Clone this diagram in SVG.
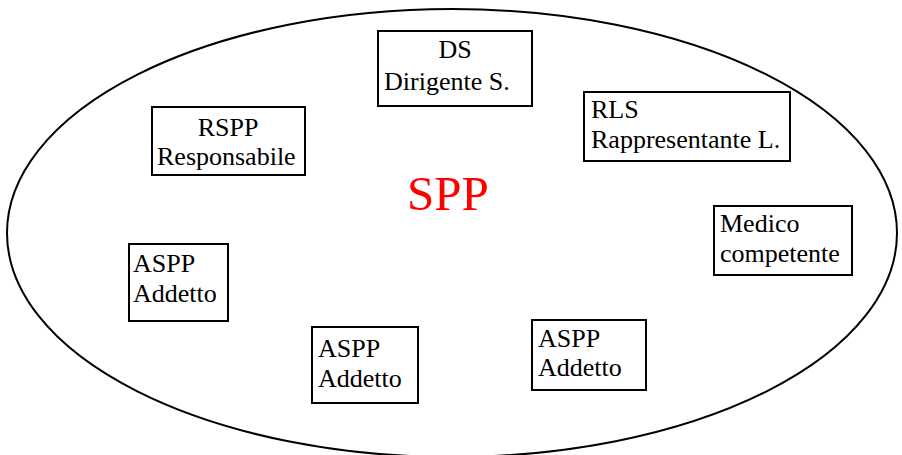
<svg xmlns="http://www.w3.org/2000/svg" width="902" height="455" viewBox="0 0 902 455">
<style>
.box{fill:#fff;stroke:#000;stroke-width:2}
.c{text-anchor:middle}
</style>
<rect width="902" height="455" fill="#fff"/>
<ellipse cx="452" cy="233" rx="445" ry="224" fill="none" stroke="#000" stroke-width="2"/>
<g font-family="Liberation Serif, Times New Roman, serif" font-size="26" fill="#000">
<text x="448" y="210" font-size="49" fill="#ff0000" text-anchor="middle">SPP</text>
<g id="connectors"></g>
<g id="ds"><rect class="box" x="378" y="31" width="154" height="75"/><text class="c" x="455" y="58">DS</text><text x="384" y="90">Dirigente S.</text></g>
<g id="rspp"><rect class="box" x="152" y="107" width="153" height="68"/><text class="c" x="228" y="136">RSPP</text><text x="157" y="165">Responsabile</text></g>
<g id="rls"><rect class="box" x="584" y="92" width="206" height="69"/><text x="591" y="118">RLS</text><text x="591" y="148">Rappresentante L.</text></g>
<g id="medico"><rect class="box" x="714" y="206" width="138" height="69"/><text x="720" y="232">Medico</text><text x="720" y="262">competente</text></g>
<g id="aspp1"><rect class="box" x="129" y="244" width="99" height="77"/><text x="133" y="272">ASPP</text><text x="133" y="302">Addetto</text></g>
<g id="aspp2"><rect class="box" x="312" y="327" width="106" height="76"/><text x="318" y="357">ASPP</text><text x="318" y="387">Addetto</text></g>
<g id="aspp3"><rect class="box" x="532" y="320" width="114" height="70"/><text x="538" y="347">ASPP</text><text x="538" y="376">Addetto</text></g>
</g>
</svg>
